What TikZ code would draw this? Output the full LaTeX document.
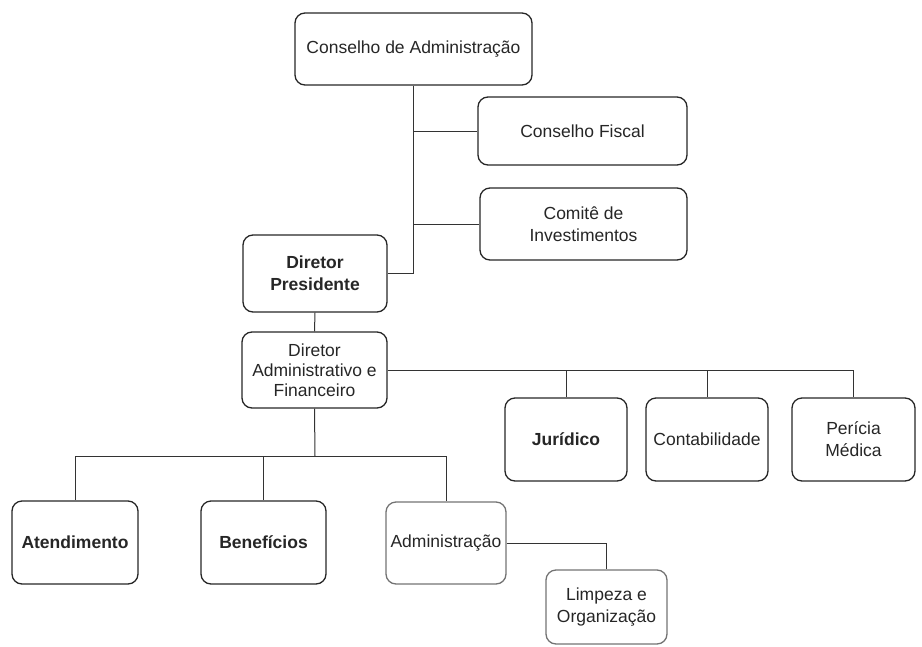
\documentclass[tikz,border=0pt]{standalone}
\usepackage{fontspec}
\setmainfont{Liberation Sans}
\begin{document}
\begin{tikzpicture}[x=1pt,y=-1pt,
  box/.style={draw=black!85,line width=1.3pt,rounded corners=10pt,align=center,inner sep=0pt,
    font=\fontsize{17.5}{22}\selectfont,text=black!85},
  lbox/.style={box,draw=black!55},
  conn/.style={draw=black!80,line width=1pt}]
\useasboundingbox (0,0) rectangle (922,646);
\node[box,minimum width=237pt,minimum height=72pt] (ca) at (413.5,49) {Conselho de Administração};
\node[box,minimum width=209pt,minimum height=68pt] (cf) at (582.5,131) {Conselho Fiscal};
\node[box,minimum width=207pt,minimum height=72pt] (ci) at (583.5,224) {Comitê de\\Investimentos};
\node[box,minimum width=144pt,minimum height=77pt] (dp) at (315,273.5) {\textbf{Diretor}\\\textbf{Presidente}};
\node[box,minimum width=145pt,minimum height=76pt,font=\fontsize{17.5}{20}\selectfont] (daf) at (314.5,370) {Diretor\\Administrativo e\\Financeiro};
\node[box,minimum width=122pt,minimum height=83pt] (jur) at (566,439.5) {\textbf{Jurídico}};
\node[box,minimum width=122pt,minimum height=83pt] (cont) at (707,439.5) {Contabilidade};
\node[box,minimum width=123pt,minimum height=83pt] (per) at (853.5,439.5) {Perícia\\Médica};
\node[box,minimum width=126pt,minimum height=83pt] (aten) at (75,542.5) {\textbf{Atendimento}};
\node[box,minimum width=125pt,minimum height=83pt] (ben) at (263.5,542.5) {\textbf{Benefícios}};
\node[lbox,minimum width=120pt,minimum height=82pt] (adm) at (446,543) {Administração};
\node[lbox,minimum width=121pt,minimum height=74pt] (limp) at (606.5,607) {Limpeza e\\Organização};
\coordinate (bar) at (315,456);
\draw[conn] (ca.south) |- (dp.east);
\draw[conn] (ca.south |- cf.west) -- (cf.west);
\draw[conn] (ca.south |- ci.west) -- (ci.west);
\draw[conn] (dp.south) -- (daf.north);
\draw[conn] (daf.east) -- (per.north |- daf.east) -- (per.north);
\draw[conn] (jur.north |- daf.east) -- (jur.north);
\draw[conn] (cont.north |- daf.east) -- (cont.north);
\draw[conn] (daf.south) -- (bar);
\draw[conn] (aten.north |- bar) -- (adm.north |- bar) -- (adm.north);
\draw[conn] (aten.north |- bar) -- (aten.north);
\draw[conn] (ben.north |- bar) -- (ben.north);
\draw[conn] (adm.east) -- (limp.north |- adm.east) -- (limp.north);
\end{tikzpicture}
\end{document}
